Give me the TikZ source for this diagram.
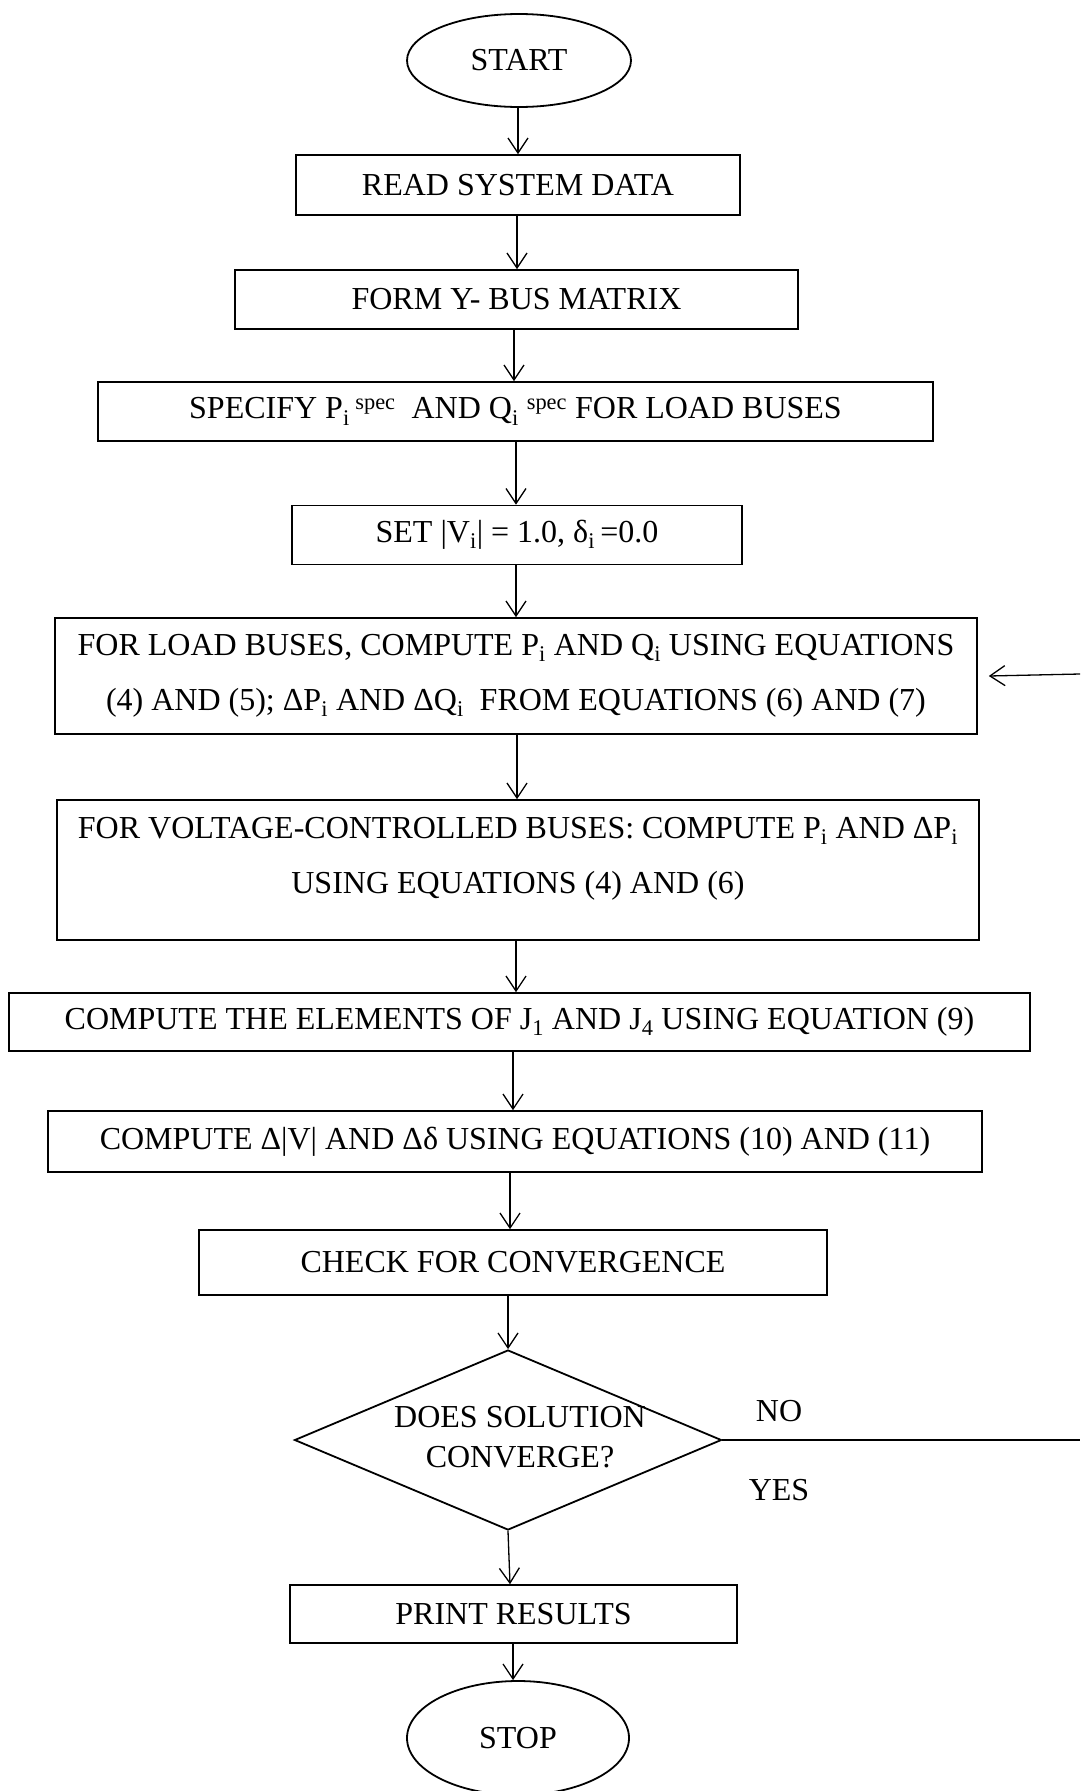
\documentclass[tikz,border=0pt]{standalone}
\usepackage{fontspec}
\setmainfont{Liberation Serif}
\usetikzlibrary{shapes.geometric,arrows.meta}
\begin{document}
\begin{tikzpicture}[x=1pt,y=-1pt,
  every node/.style={font=\fontsize{32}{55}\selectfont},
  proc/.style={draw, line width=1.6pt, rectangle, inner sep=0pt, align=center},
  term/.style={draw, ellipse, line width=1.8pt, inner sep=0pt},
  arr/.style={line width=1.3pt, -{Straight Barb[length=15pt,width=20pt]}},
  flow/.style={line width=1.3pt}]
\useasboundingbox (0,0) rectangle (1080,1791);

% terminals and process boxes
\node[term, minimum width=224pt, minimum height=93pt] (start) at (519,60.5) {START};
\node[proc, minimum width=444pt, minimum height=60pt] (read) at (518,185) {READ SYSTEM DATA};
\node[proc, minimum width=563pt, minimum height=59pt] (form) at (516.5,299.5) {FORM Y- BUS MATRIX};
\node[proc, minimum width=835pt, minimum height=59pt] (spec) at (515.5,411.5)
  {SPECIFY P\textsubscript{i}\textsuperscript{ spec}~ AND Q\textsubscript{i} \textsuperscript{spec} FOR LOAD BUSES};
\node[proc, minimum width=450pt, minimum height=59pt] (set) at (517,535)
  {SET |V\textsubscript{i}| = 1.0, δ\textsubscript{i}\,=0.0};
\node[proc, minimum width=922pt, minimum height=116pt] (load) at (516,676)
  {FOR LOAD BUSES, COMPUTE P\textsubscript{i} AND Q\textsubscript{i} USING EQUATIONS\\
   (4) AND (5); ΔP\textsubscript{i} AND ΔQ\textsubscript{i}~ FROM EQUATIONS (6) AND (7)};
\node[proc, minimum width=922pt, minimum height=140pt] (volt) at (518,870) {};
\node[anchor=north, align=center, inner sep=0pt] (volttext) at (518,817)
  {FOR VOLTAGE-CONTROLLED BUSES: COMPUTE P\textsubscript{i} AND ΔP\textsubscript{i}\\
   USING EQUATIONS (4) AND (6)};
\node[proc, minimum width=1021pt, minimum height=58pt] (jac) at (519.5,1022)
  {COMPUTE THE ELEMENTS OF J\textsubscript{1} AND J\textsubscript{4} USING EQUATION (9)};
\node[proc, minimum width=934pt, minimum height=61pt] (dv) at (515,1141.5)
  {COMPUTE Δ|V| AND Δδ USING EQUATIONS (10) AND (11)};
\node[proc, minimum width=628pt, minimum height=65pt] (check) at (513,1262.5) {CHECK FOR CONVERGENCE};

% decision
\node[diamond, draw, line width=1.8pt, minimum width=427pt, minimum height=180pt, inner sep=0pt] (dec) at (508,1440) {};
\node[align=center, font=\fontsize{32}{40}\selectfont] (qtext) at (520,1437) {DOES SOLUTION\\CONVERGE?};
\node (no) at (779,1411) {NO};
\node (yes) at (779,1490) {YES};

\node[proc, minimum width=447pt, minimum height=58pt] (print) at (513.5,1614) {PRINT RESULTS};
\node[term, minimum width=222pt, minimum height=114pt] (stop) at (518,1738) {STOP};

% loop-back ends at the page edge
\coordinate (loopout) at (1080,1440);
\coordinate (loopin) at (1080,674);

% connectors
\draw[arr] (start.south -| 518,0) -- (read.north -| 518,0);
\draw[arr] (read.south -| 517,0) -- (form.north -| 517,0);
\draw[arr] (form.south -| 514,0) -- (spec.north -| 514,0);
\draw[arr] (spec.south -| 516,0) -- (set.north -| 516,0);
\draw[arr] (set.south -| 516,0) -- (load.north -| 516,0);
\draw[arr] (load.south -| 517,0) -- (volt.north -| 517,0);
\draw[arr] (volt.south -| 516,0) -- (jac.north -| 516,0);
\draw[arr] (jac.south -| 513,0) -- (dv.north -| 513,0);
\draw[arr] (dv.south -| 510,0) -- (check.north -| 510,0);
\draw[arr] (check.south -| 508,0) -- (dec.north);
\draw[arr] (dec.south) -- (print.north -| 510,0);
\draw[arr] (print.south -| 513,0) -- (stop.north -| 513,0);
\draw[flow] (dec.east) -- (loopout);
\draw[arr] (loopin) -- ([xshift=11pt]load.east);
\end{tikzpicture}
\end{document}
